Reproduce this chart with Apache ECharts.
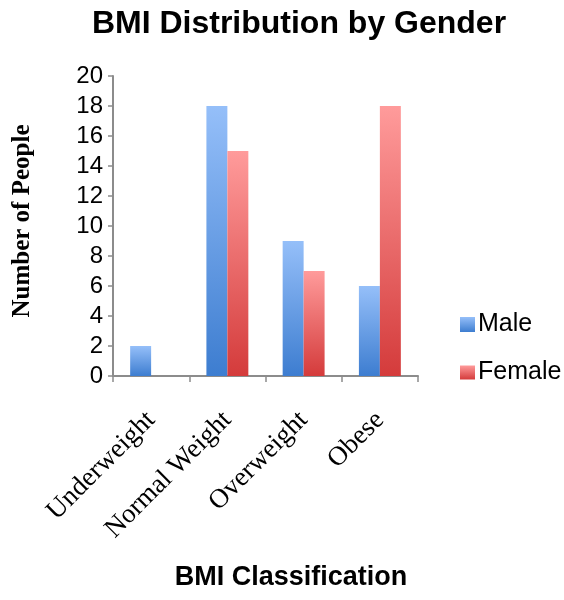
<!DOCTYPE html>
<html><head><meta charset="utf-8">
<script src="https://cdn.jsdelivr.net/npm/echarts@6/dist/echarts.min.js"></script>
<style>html,body{margin:0;padding:0;background:#fff}#c{width:564px;height:600px}</style>
</head><body><div id="c"></div>
<script>
const categories = ['Underweight', 'Normal Weight', 'Overweight', 'Obese'];
const maleValues = [2, 18, 9, 6];
const femaleValues = [0, 15, 7, 18];
const yTicks = [0, 2, 4, 6, 8, 10, 12, 14, 16, 18, 20];

const grad = (top, bottom) => new echarts.graphic.LinearGradient(0, 0, 0, 1, [
  {offset: 0, color: top}, {offset: 1, color: bottom}
]);
const maleColor = grad('#95bff9', '#3d7dd0');
const femaleColor = grad('#ff9b9b', '#d43b3b');
const sans = 'Liberation Sans, Arial';
const serif = 'Liberation Serif, Times New Roman';

const chart = echarts.init(document.getElementById('c'), null, {renderer: 'canvas'});
chart.setOption({
  animation: false,
  title: {
    text: 'BMI Distribution by Gender', left: 294, top: 3, textAlign: 'center',
    textStyle: {fontFamily: sans, fontWeight: 'bold', fontSize: 32, color: '#000'}
  },
  legend: [
    {
      left: 455, top: 307, itemWidth: 15, itemHeight: 15, icon: 'rect', padding: 5, itemGap: 0,
      textStyle: {fontFamily: sans, fontSize: 25, color: '#000', padding: [0, 0, 10, -2]},
      data: ['Male']
    },
    {
      left: 455, top: 355, itemWidth: 15, itemHeight: 14, icon: 'rect', padding: 5, itemGap: 0,
      textStyle: {fontFamily: sans, fontSize: 25, color: '#000', padding: [29, 0, 0, -2]},
      data: ['Female']
    }
  ],
  grid: {left: 113, right: 146, top: 76, bottom: 224},
  xAxis: {
    type: 'category', data: categories,
    name: 'BMI Classification', nameLocation: 'middle', nameGap: 188,
    nameTextStyle: {fontFamily: sans, fontWeight: 'bold', fontSize: 27, color: '#000', padding: [0, 0, 0, 51]},
    axisLine: {lineStyle: {color: '#8c8c8c', width: 2}},
    axisTick: {show: true, length: 6, lineStyle: {color: '#8c8c8c', width: 1.5}},
    axisLabel: {rotate: 45, margin: 40, fontFamily: serif, fontSize: 27, color: '#000'}
  },
  yAxis: {
    type: 'value', min: 0, max: 20, interval: 2,
    name: 'Number of People', nameLocation: 'middle', nameGap: 78, nameRotate: 90,
    nameTextStyle: {fontFamily: serif, fontWeight: 'bold', fontSize: 25, color: '#000', padding: [0, 0, 0, 10]},
    axisLine: {show: true, lineStyle: {color: '#8c8c8c', width: 2}},
    axisTick: {show: true, length: 5, lineStyle: {color: '#8c8c8c', width: 1.5}},
    splitLine: {show: false},
    axisLabel: {margin: 10, fontFamily: sans, fontSize: 24, color: '#000',
      formatter: v => yTicks.includes(v) ? String(v) : ''}
  },
  series: [
    {name: 'Male', type: 'bar', data: maleValues, barGap: '0%', barCategoryGap: '45%',
      itemStyle: {color: maleColor}},
    {name: 'Female', type: 'bar', data: femaleValues,
      itemStyle: {color: femaleColor}}
  ]
});
</script></body></html>
